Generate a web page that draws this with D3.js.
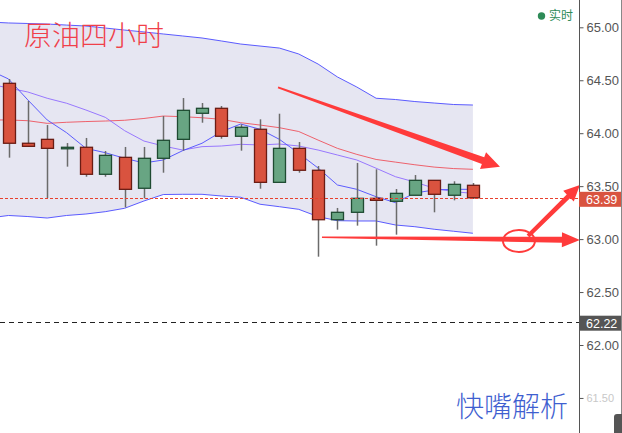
<!DOCTYPE html>
<html><head><meta charset="utf-8">
<script src="https://cdn.jsdelivr.net/npm/d3@7"></script>
<style>body{margin:0;background:#fff;} svg{display:block;}</style>
</head><body><svg id="c" width="622" height="433"></svg>
<script>
// ---- candle data (25 four-hour bars) ----
const opens  = [64.471,63.905,63.942,63.857,63.867,63.612,63.772,63.480,63.763,63.942,64.188,64.235,63.971,64.037,63.536,63.857,63.650,63.183,63.253,63.385,63.357,63.414,63.555,63.414,63.508];
const highs  = [64.512,64.304,64.077,63.907,63.955,63.832,63.870,63.870,64.162,64.332,64.285,64.257,64.084,64.131,64.184,63.917,63.690,63.294,63.719,63.659,63.473,63.605,63.555,63.546,63.530];
const lows   = [63.769,63.870,63.388,63.684,63.589,63.589,63.300,63.385,63.627,63.835,64.099,63.948,63.835,63.476,63.536,63.627,62.834,63.089,63.127,62.938,63.042,63.414,63.253,63.366,63.380];
const closes = [63.905,63.876,63.857,63.867,63.612,63.791,63.470,63.763,63.933,64.216,64.235,63.971,64.056,63.536,63.857,63.650,63.183,63.253,63.385,63.366,63.432,63.555,63.423,63.517,63.390];
// ---- indicator lines (start one bar before the first visible candle) ----
const bollUpper = [65.050,65.041,65.036,65.031,65.021,65.012,64.993,64.974,64.956,64.937,64.918,64.899,64.871,64.842,64.823,64.804,64.748,64.653,64.531,64.436,64.330,64.318,64.299,64.285,64.271,64.266];
const bollMid   = [64.125,64.125,64.118,64.093,64.103,64.110,64.115,64.122,64.139,64.162,64.156,64.146,64.131,64.099,64.077,64.052,64.016,63.935,63.857,63.800,63.752,63.727,63.702,63.680,63.666,63.659];
const bollLower = [63.199,63.223,63.213,63.199,63.223,63.237,63.259,63.291,63.360,63.421,63.423,63.423,63.407,63.395,63.329,63.306,63.281,63.212,63.174,63.171,63.171,63.133,63.117,63.093,63.074,63.055];
const ma10      = [64.465,64.427,64.389,64.330,64.283,64.219,64.150,64.024,63.926,63.879,63.841,63.873,63.879,63.895,63.889,63.898,63.879,63.841,63.794,63.747,63.669,63.589,63.539,63.480,63.448,63.432];
const ma5       = [64.597,64.512,64.314,64.125,64.005,63.857,63.816,63.763,63.719,63.747,63.835,63.905,64.014,64.087,64.037,63.942,63.810,63.671,63.511,63.470,63.400,63.344,63.435,63.464,63.470,63.470];
const yTicks = [61.5,62,62.5,63,63.5,64,64.5,65];
const lastPrice = 63.39;
const markPrice = 62.22;
const titleText = "原油四小时";
const liveText = "实时";
const watermark = "快嘴解析";
// annotation arrows in (bar index, price) space
const arrows = [
  {from:[13.93,64.433], to:[25.40,63.684], w1:2,   w2:7, head:18, headW:18},
  {from:[16.20,63.017], to:[29.53,62.991], w1:1.5, w2:6, head:18, headW:15},
  {from:[26.85,63.029], to:[29.53,63.511], w1:4,   w2:5, head:16, headW:15}
];
const ring = {at:[26.38,62.982], rx:16, ry:11};

const svg = d3.select("#c");
const W = 622, H = 433, axisX = 579;
const x = d3.scaleLinear().domain([0,24]).range([8.5,472.9]);
const y = d3.scaleLinear().domain([62,65]).range([345,27.3]);

svg.append("defs").append("clipPath").attr("id","plot")
  .append("rect").attr("x",0).attr("y",0).attr("width",axisX).attr("height",H);
const plot = svg.append("g").attr("clip-path","url(#plot)");

const idx = bollUpper.map((d,i)=>i-1);
// band fill
plot.append("path").datum(idx)
  .attr("d", d3.area().x(i=>x(i)).y0(i=>y(bollLower[i+1])).y1(i=>y(bollUpper[i+1])))
  .attr("fill","#e6e6f2");
function line(arr,color,w,op){
  plot.append("path").datum(idx)
    .attr("d", d3.line().x(i=>x(i)).y(i=>y(arr[i+1])))
    .attr("fill","none").attr("stroke",color).attr("stroke-width",w).attr("stroke-opacity",op);
}
line(bollUpper,"#4a4aff",1,0.9);
line(bollLower,"#4a4aff",1,0.9);
line(bollMid,"#ee4a55",1,0.85);
line(ma10,"#8f6cff",1,0.9);
line(ma5,"#4d4dff",1,0.9);

// candles
const bars = opens.map((o,i)=>({i,o,h:highs[i],l:lows[i],c:closes[i]}));
const bw = 12;
const cg = plot.append("g");
cg.selectAll("line.w").data(bars).enter().append("line")
  .attr("x1",d=>Math.round(x(d.i))+0.5).attr("x2",d=>Math.round(x(d.i))+0.5)
  .attr("y1",d=>y(d.h)).attr("y2",d=>y(d.l))
  .attr("stroke","#6b6b6b").attr("stroke-width",1.5);
cg.selectAll("rect.b").data(bars).enter().append("rect")
  .attr("x",d=>Math.round(x(d.i))+0.5-bw/2)
  .attr("y",d=>y(Math.max(d.o,d.c)))
  .attr("width",bw)
  .attr("height",d=>Math.max(1.5,Math.abs(y(d.o)-y(d.c))))
  .attr("fill",d=>d.c>=d.o?"#68a583":"#d9533f")
  .attr("stroke",d=>d.c>=d.o?"#1f4b32":"#6a1c14")
  .attr("stroke-width",1.3);

// price lines
plot.append("line").attr("x1",0).attr("x2",axisX).attr("y1",Math.round(y(lastPrice))+0.5).attr("y2",Math.round(y(lastPrice))+0.5)
  .attr("stroke","#e8402e").attr("stroke-width",1).attr("stroke-dasharray","3,2");
plot.append("line").attr("x1",0).attr("x2",axisX).attr("y1",Math.round(y(markPrice))+0.5).attr("y2",Math.round(y(markPrice))+0.5)
  .attr("stroke","#222").attr("stroke-width",1).attr("stroke-dasharray","5,4");

// title
svg.append("text").attr("x",24).attr("y",46).text(titleText)
  .attr("font-family","'Noto Sans CJK SC'").attr("font-size",28).attr("font-weight",300)
  .attr("fill","#f0404a");

// watermark
svg.append("text").attr("x",456).attr("y",417).text(watermark)
  .attr("font-family","'Noto Sans CJK SC'").attr("font-size",28).attr("font-weight",300)
  .attr("fill","#3f5fd0");

// arrows
function arrowPoly(a){
  const p1=[x(a.from[0]),y(a.from[1])], p2=[x(a.to[0]),y(a.to[1])];
  const dx=p2[0]-p1[0], dy=p2[1]-p1[1], L=Math.hypot(dx,dy);
  const u=[dx/L,dy/L], n=[-u[1],u[0]];
  const b=[p2[0]-u[0]*a.head, p2[1]-u[1]*a.head];
  const P=(p,k)=>[p[0]+n[0]*k,p[1]+n[1]*k];
  return [P(p1,a.w1/2),P(b,a.w2/2),P(b,a.headW/2),p2,P(b,-a.headW/2),P(b,-a.w2/2),P(p1,-a.w1/2)];
}
svg.selectAll("polygon.arr").data(arrows).enter().append("polygon")
  .attr("points",d=>arrowPoly(d).map(p=>p.join(",")).join(" "))
  .attr("fill","#ff3b3b");
svg.append("ellipse").attr("cx",x(ring.at[0])).attr("cy",y(ring.at[1]))
  .attr("rx",ring.rx).attr("ry",ring.ry)
  .attr("fill","none").attr("stroke","#ff3b3b").attr("stroke-width",2);

// axis
const ax = svg.append("g").attr("transform",`translate(${axisX+0.5},0)`)
  .call(d3.axisRight(y).tickValues(yTicks).tickFormat(d3.format(".2f")).tickSize(4).tickPadding(3));
ax.select(".domain").attr("d",`M0,0V${H}`).attr("stroke","#555");
ax.selectAll(".tick line").attr("stroke","#555");
ax.selectAll(".tick text").attr("fill","#555").attr("font-size",13)
  .attr("font-family","'Liberation Sans',Arial,sans-serif");
ax.selectAll(".tick").filter(d=>d===61.5).select("text").attr("fill","#c8c8c8").attr("font-size",11);

// price tags
function tag(v,fill){
  const g = svg.append("g").attr("transform",`translate(${axisX},${y(v)})`);
  g.append("rect").attr("x",0).attr("y",-6).attr("width",43).attr("height",15).attr("fill",fill);
  g.append("text").attr("x",7).attr("y",2).attr("dy","0.35em").text(d3.format(".2f")(v))
    .attr("fill","#fff").attr("font-size",12.5).attr("font-family","'Liberation Sans',Arial,sans-serif");
}
tag(lastPrice,"#d9533f");
tag(markPrice,"#555555");

// right border & corner widget
svg.append("line").attr("x1",621.5).attr("x2",621.5).attr("y1",0).attr("y2",H).attr("stroke","#888");
svg.append("rect").attr("x",614).attr("y",414).attr("width",12).attr("height",24).attr("rx",3).attr("fill","#555");

// live indicator
svg.append("circle").attr("cx",541.5).attr("cy",16).attr("r",3.7).attr("fill","#2e8b57");
svg.append("text").attr("x",549).attr("y",16).attr("dy","0.35em").text(liveText)
  .attr("fill","#2e8b57").attr("font-size",12).attr("font-family","'Noto Sans CJK SC'");
</script></body></html>
